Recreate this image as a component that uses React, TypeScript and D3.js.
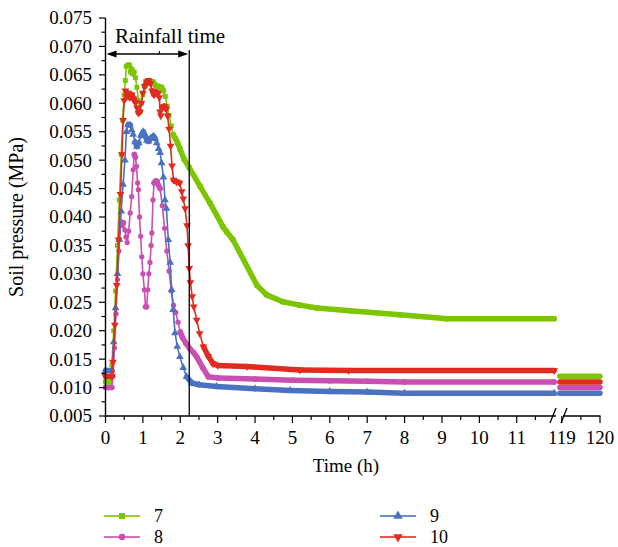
import React from "react";
import * as d3 from "d3";

// ---------- data ----------
const seriesNames = ["7", "8", "9", "10"];
const seriesColors = ["#7cc500", "#c94fb2", "#4a72c0", "#e02b1e"];

const series7: [number, number][] = [
  [0, 0.011], [0.13, 0.011], [0.17, 0.014], [0.22, 0.02], [0.27, 0.027], [0.32, 0.035],
  [0.37, 0.043], [0.42, 0.051], [0.46, 0.057], [0.5, 0.0615], [0.53, 0.064], [0.56, 0.0665],
  [0.6, 0.0667], [0.64, 0.0667], [0.67, 0.0655], [0.7, 0.066], [0.73, 0.0652], [0.76, 0.0655],
  [0.8, 0.0645], [0.84, 0.0628], [0.88, 0.0605], [0.92, 0.0585], [0.96, 0.06], [1.0, 0.0615],
  [1.05, 0.063], [1.11, 0.0637], [1.2, 0.0638], [1.27, 0.0638], [1.33, 0.0632], [1.4, 0.063],
  [1.5, 0.0628], [1.55, 0.0622], [1.6, 0.0612], [1.65, 0.0595], [1.7, 0.0578], [1.76, 0.056],
  [1.81, 0.0545], [1.87, 0.0538], [1.93, 0.053], [1.99, 0.052], [2.1, 0.0502], [2.24, 0.0487],
  [2.53, 0.0454], [2.8, 0.0424], [3.14, 0.0383], [3.24, 0.0374], [3.41, 0.036], [4.05, 0.028],
  [4.31, 0.0263], [4.74, 0.0251], [5.2, 0.0245], [5.66, 0.024], [6.54, 0.0235], [7.88, 0.0228],
  [9.14, 0.0221], [12.0, 0.0221],
];
const series8: [number, number][] = [
  [0, 0.01], [0.17, 0.01], [0.2, 0.012], [0.24, 0.017], [0.28, 0.023], [0.32, 0.029],
  [0.36, 0.034], [0.41, 0.0392], [0.45, 0.0385], [0.48, 0.039], [0.52, 0.0377], [0.55, 0.0365],
  [0.58, 0.0355], [0.62, 0.0375], [0.66, 0.0407], [0.7, 0.0436], [0.74, 0.0483], [0.77, 0.051],
  [0.8, 0.0505], [0.83, 0.0489], [0.86, 0.046], [0.88, 0.0448], [0.91, 0.04], [0.94, 0.0366],
  [0.97, 0.033], [1.0, 0.03], [1.04, 0.0272], [1.07, 0.0242], [1.1, 0.0242], [1.13, 0.0272],
  [1.16, 0.03], [1.19, 0.032], [1.22, 0.035], [1.24, 0.0372], [1.27, 0.043], [1.3, 0.046],
  [1.34, 0.0463], [1.38, 0.0463], [1.41, 0.0457], [1.46, 0.045], [1.52, 0.042], [1.58, 0.038],
  [1.64, 0.034], [1.7, 0.0305], [1.76, 0.027], [1.82, 0.0245], [1.88, 0.0232], [1.94, 0.0215],
  [2.0, 0.0198], [2.06, 0.0188], [2.15, 0.0178], [2.26, 0.0168], [2.35, 0.0162], [2.44, 0.0154],
  [2.6, 0.0135], [2.75, 0.0119], [3.0, 0.0117], [4.0, 0.0115], [5.0, 0.0113], [6.0, 0.0112],
  [7.0, 0.0111], [8.0, 0.011], [12.0, 0.011],
];
const series9: [number, number][] = [
  [0, 0.013], [0.17, 0.013], [0.22, 0.018], [0.27, 0.024], [0.32, 0.03], [0.37, 0.036],
  [0.42, 0.041], [0.47, 0.0457], [0.52, 0.05], [0.56, 0.055], [0.6, 0.0562], [0.66, 0.0562],
  [0.7, 0.0553], [0.74, 0.0545], [0.79, 0.0532], [0.84, 0.0524], [0.89, 0.053], [0.95, 0.0543],
  [1.01, 0.055], [1.06, 0.0543], [1.11, 0.0535], [1.15, 0.0533], [1.2, 0.0538], [1.28, 0.0542],
  [1.33, 0.0538], [1.37, 0.053], [1.42, 0.052], [1.46, 0.0513], [1.5, 0.0495], [1.55, 0.047],
  [1.59, 0.043], [1.63, 0.0415], [1.68, 0.036], [1.73, 0.032], [1.77, 0.0272], [1.81, 0.0237],
  [1.86, 0.0196], [1.92, 0.0172], [1.99, 0.0154], [2.08, 0.0135], [2.17, 0.0119], [2.31, 0.0108],
  [2.5, 0.0105], [2.97, 0.0102], [4.0, 0.0098], [4.94, 0.0095], [6.0, 0.0093], [7.0, 0.0092],
  [8.0, 0.009], [12.0, 0.009],
];
const series10: [number, number][] = [
  [0, 0.012], [0.17, 0.012], [0.2, 0.0145], [0.25, 0.021], [0.3, 0.028], [0.35, 0.036],
  [0.4, 0.044], [0.44, 0.051], [0.47, 0.057], [0.5, 0.0605], [0.53, 0.0622], [0.57, 0.0612],
  [0.61, 0.0618], [0.65, 0.061], [0.7, 0.0615], [0.75, 0.0608], [0.8, 0.0602], [0.84, 0.0592],
  [0.88, 0.0583], [0.92, 0.0585], [0.96, 0.06], [1.0, 0.0618], [1.05, 0.063], [1.1, 0.0638],
  [1.15, 0.064], [1.2, 0.0635], [1.25, 0.0622], [1.3, 0.0615], [1.35, 0.062], [1.4, 0.0618],
  [1.44, 0.061], [1.46, 0.0585], [1.48, 0.0578], [1.52, 0.0593], [1.57, 0.0595], [1.62, 0.059],
  [1.66, 0.0578], [1.7, 0.0555], [1.74, 0.0525], [1.78, 0.049], [1.82, 0.0465], [1.9, 0.0462],
  [1.98, 0.046], [2.04, 0.0445], [2.08, 0.0432], [2.13, 0.0415], [2.18, 0.0385], [2.21, 0.035],
  [2.24, 0.031], [2.27, 0.0285], [2.32, 0.026], [2.36, 0.0242], [2.44, 0.0219], [2.52, 0.0195],
  [2.62, 0.0172], [2.75, 0.0155], [2.88, 0.0142], [3.0, 0.0139], [3.78, 0.0137], [5.2, 0.0131],
  [6.5, 0.013], [12.0, 0.013],
];
// after the axis break (119 h – 120 h)
const late7: [number, number][] = [[118.95, 0.012], [120, 0.012]];
const late8: [number, number][] = [[118.95, 0.01], [120, 0.01]];
const late9: [number, number][] = [[118.95, 0.009], [120, 0.009]];
const late10: [number, number][] = [[118.95, 0.011], [120, 0.011]];

const earlySeries = [series7, series8, series9, series10];
const lateSeries = [late7, late8, late9, late10];

const xTicksA = [0, 1, 2, 3, 4, 5, 6, 7, 8, 9, 10, 11];
const xMinorA = [0.5, 1.5, 2.5, 3.5, 4.5, 5.5, 6.5, 7.5, 8.5, 9.5, 10.5, 11.5];
const xTicksB = [119, 120];
const xMinorB = [119.5];
const yTicks = [0.005, 0.01, 0.015, 0.02, 0.025, 0.03, 0.035, 0.04, 0.045, 0.05, 0.055, 0.06, 0.065, 0.07, 0.075];
const rainEnd = 2.24;
const rainLabel = "Rainfall time";

const FONT = "'Liberation Serif', 'DejaVu Serif', serif";

const symbolTypes = [d3.symbolSquare, d3.symbolCircle, d3.symbolTriangle, d3.symbolTriangle];
const symbolSizes = [24, 22, 26, 26];
const symbolRot = [0, 0, 0, 180];

export default function App() {
  const W = 618, H = 547;
  const x1 = d3.scaleLinear().domain([0, 12.05]).range([105.5, 556]);
  const x2 = d3.scaleLinear().domain([118.9, 120]).range([558, 600]);
  const y = d3.scaleLinear().domain([0.005, 0.075]).range([416, 18]);
  const y0 = y(0.005);

  const line1 = d3.line<[number, number]>().x((d) => x1(d[0])).y((d) => y(d[1]));
  const line2 = d3.line<[number, number]>().x((d) => x2(d[0])).y((d) => y(d[1]));

  const yMinor = d3.range(0, yTicks.length - 1).map((i) => (yTicks[i] + yTicks[i + 1]) / 2);

  const renderSeries = (i: number) => {
    const data = earlySeries[i];
    const col = seriesColors[i];
    const sym = d3.symbol().type(symbolTypes[i]).size(symbolSizes[i])()!;
    // dense markers overlap into a thick band where the curve is flat-ish
    const thick: JSX.Element[] = [];
    for (let k = 0; k < data.length - 1; k++) {
      const ax = x1(data[k][0]), ay = y(data[k][1]);
      const bx = x1(data[k + 1][0]), by = y(data[k + 1][1]);
      const slope = Math.abs(by - ay) / Math.max(0.001, Math.abs(bx - ax));
      if (slope < 2.6) {
        thick.push(
          <line key={k} x1={ax} y1={ay} x2={bx} y2={by} stroke={col} strokeWidth={5.5} strokeLinecap="round" />
        );
      }
    }
    return (
      <g key={i}>
        <path d={line1(data)!} fill="none" stroke={col} strokeWidth={1.6} />
        {thick}
        {data.map((d, k) => (
          <path
            key={"m" + k}
            d={sym}
            fill={col}
            transform={`translate(${x1(d[0])},${y(d[1])}) rotate(${symbolRot[i]})`}
          />
        ))}
        <path d={line2(lateSeries[i])!} fill="none" stroke={col} strokeWidth={5.5} strokeLinecap="round" />
      </g>
    );
  };

  const legendPos = [
    { x: 104, y: 516 },
    { x: 104, y: 537 },
    { x: 380, y: 516 },
    { x: 380, y: 537 },
  ];

  const rx = x1(rainEnd);
  const arrowY = 54;

  return (
    <svg width={W} height={H} style={{ position: "absolute", left: 0, top: 0, background: "#fff" }} fontFamily={FONT}>
      <rect width={W} height={H} fill="#fff" />
      {/* series */}
      {[0, 1, 2, 3].map(renderSeries)}

      {/* rainfall annotation */}
      <line x1={rx} y1={50} x2={rx} y2={y0} stroke="#000" strokeWidth={1.3} />
      <line x1={x1(0) + 8} y1={arrowY} x2={rx - 8} y2={arrowY} stroke="#000" strokeWidth={1.3} />
      <path d={`M${x1(0) + 1},${arrowY} L${x1(0) + 11},${arrowY - 3.5} L${x1(0) + 11},${arrowY + 3.5} Z`} fill="#000" />
      <path d={`M${rx - 1},${arrowY} L${rx - 11},${arrowY - 3.5} L${rx - 11},${arrowY + 3.5} Z`} fill="#000" />
      <line x1={(x1(0) + rx) / 2 + 12} y1={arrowY - 3} x2={(x1(0) + rx) / 2 + 12} y2={arrowY} stroke="#000" strokeWidth={1} />
      <text x={170} y={43} fontSize={21} textAnchor="middle" fill="#000">{rainLabel}</text>

      {/* y axis */}
      <line x1={105.5} y1={y(0.075)} x2={105.5} y2={y0} stroke="#000" strokeWidth={1.4} />
      {yTicks.map((t) => (
        <g key={"yt" + t}>
          <line x1={99} x2={105.5} y1={y(t)} y2={y(t)} stroke="#000" strokeWidth={1.2} />
          <text x={92} y={y(t)} dy="0.34em" fontSize={19} textAnchor="end" fill="#000">{d3.format(".3f")(t)}</text>
        </g>
      ))}
      {yMinor.map((t) => (
        <line key={"ym" + t} x1={101.5} x2={105.5} y1={y(t)} y2={y(t)} stroke="#000" strokeWidth={1.2} />
      ))}
      <text transform={`translate(23,${(y(0.005) + y(0.075)) / 2}) rotate(-90)`} fontSize={20} textAnchor="middle" fill="#000">
        Soil pressure (MPa)
      </text>

      {/* x axis */}
      <line x1={104.8} x2={556} y1={y0} y2={y0} stroke="#000" strokeWidth={1.4} />
      <line x1={563} x2={600.5} y1={y0} y2={y0} stroke="#000" strokeWidth={1.4} />
      <line x1={550} y1={y0 + 7} x2={556} y2={y0 - 8} stroke="#000" strokeWidth={1.3} />
      <line x1={561} y1={y0 + 7} x2={567} y2={y0 - 8} stroke="#000" strokeWidth={1.3} />
      {xTicksA.map((t) => (
        <g key={"xa" + t}>
          <line x1={x1(t)} x2={x1(t)} y1={y0} y2={y0 + 7} stroke="#000" strokeWidth={1.2} />
          <text x={x1(t)} y={444} fontSize={19} textAnchor="middle" fill="#000">{t}</text>
        </g>
      ))}
      {xMinorA.map((t) => (
        <line key={"xma" + t} x1={x1(t)} x2={x1(t)} y1={y0} y2={y0 + 4} stroke="#000" strokeWidth={1.2} />
      ))}
      {xTicksB.map((t) => (
        <g key={"xb" + t}>
          <line x1={x2(t)} x2={x2(t)} y1={y0} y2={y0 + 7} stroke="#000" strokeWidth={1.2} />
          <text x={x2(t)} y={444} fontSize={19} textAnchor="middle" fill="#000">{t}</text>
        </g>
      ))}
      {xMinorB.map((t) => (
        <line key={"xmb" + t} x1={x2(t)} x2={x2(t)} y1={y0} y2={y0 + 4} stroke="#000" strokeWidth={1.2} />
      ))}
      <text x={346} y={472} fontSize={19} textAnchor="middle" fill="#000">Time (h)</text>

      {/* legend */}
      {seriesNames.map((name, i) => {
        const p = legendPos[i];
        const sym = d3.symbol().type(symbolTypes[i]).size(symbolSizes[i] * 1.5)()!;
        return (
          <g key={"lg" + i}>
            <line x1={p.x} x2={p.x + 36} y1={p.y} y2={p.y} stroke={seriesColors[i]} strokeWidth={2} opacity={0.8} />
            <path d={sym} fill={seriesColors[i]} transform={`translate(${p.x + 18},${p.y}) rotate(${symbolRot[i]})`} />
            <text x={p.x + 50} y={p.y + 6} fontSize={18} fill="#000">{name}</text>
          </g>
        );
      })}
    </svg>
  );
}
